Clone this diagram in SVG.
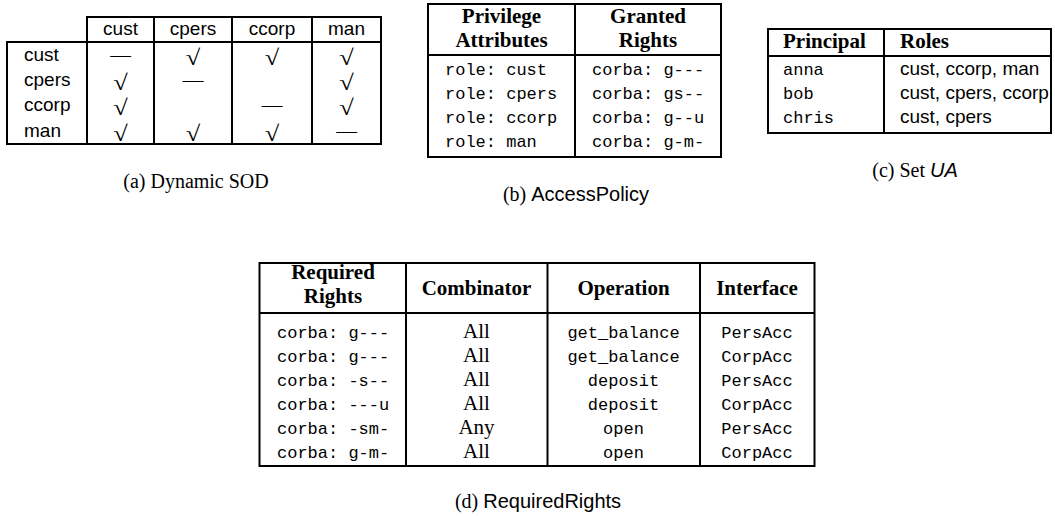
<svg xmlns="http://www.w3.org/2000/svg" width="1055" height="516" viewBox="0 0 1055 516">
<style>
.ln{stroke:#000;stroke-width:2;fill:none;stroke-linecap:square}
.sans{font-family:"Liberation Sans",Arial,sans-serif;font-size:19px;fill:#000}
.mono{font-family:"Liberation Mono","Courier New",monospace;font-size:17px;fill:#000}
.hdr{font-family:"Liberation Serif","Times New Roman",serif;font-weight:bold;font-size:21px;fill:#000}
.ser{font-family:"Liberation Serif","Times New Roman",serif;font-size:21px;fill:#000}
.cap{font-family:"Liberation Serif","Times New Roman",serif;font-size:20px;fill:#000}
.cs{font-family:"Liberation Sans",Arial,sans-serif}
.dash{font-family:"Liberation Serif","Times New Roman",serif;font-size:18px;fill:#000;text-anchor:middle}
.chk{font-family:"Liberation Serif","Times New Roman",serif;font-size:22px;fill:#000;text-anchor:middle}
.m{text-anchor:middle}
</style>
<rect width="1055" height="516" fill="#fff"/>

<g id="table-a">
  <path class="ln" d="M87,17H381M7,42H381M7,144H381M7,42V144M87,17V144M154,17V144M232,17V144M312,17V144M381,17V144"/>
  <g class="sans m">
    <text x="120.5" y="35">cust</text>
    <text x="193" y="35">cpers</text>
    <text x="272" y="35">ccorp</text>
    <text x="346.5" y="35">man</text>
  </g>
  <g class="sans">
    <text x="24" y="61">cust</text>
    <text x="24" y="86">cpers</text>
    <text x="24" y="111">ccorp</text>
    <text x="24" y="137">man</text>
  </g>
  <g class="dash">
    <text transform="translate(120.5,61) scale(1.15,1)">—</text>
    <text transform="translate(193,86) scale(1.15,1)">—</text>
    <text transform="translate(272,111) scale(1.15,1)">—</text>
    <text transform="translate(346.5,137) scale(1.15,1)">—</text>
  </g>
  <g class="chk">
    <text transform="translate(193,65) scale(1.2,1)">√</text>
    <text transform="translate(272,65) scale(1.2,1)">√</text>
    <text transform="translate(346.5,65) scale(1.2,1)">√</text>
    <text transform="translate(120.5,90) scale(1.2,1)">√</text>
    <text transform="translate(346.5,90) scale(1.2,1)">√</text>
    <text transform="translate(120.5,115) scale(1.2,1)">√</text>
    <text transform="translate(346.5,115) scale(1.2,1)">√</text>
    <text transform="translate(120.5,141) scale(1.2,1)">√</text>
    <text transform="translate(193,141) scale(1.2,1)">√</text>
    <text transform="translate(272,141) scale(1.2,1)">√</text>
  </g>
  <text class="cap m" x="196" y="188">(a) Dynamic SOD</text>
</g>

<g id="table-b">
  <path class="ln" d="M428,4H721M428,55H721M428,157H721M428,4V157M575,4V157M721,4V157"/>
  <g class="hdr m">
    <text x="501.5" y="23">Privilege</text>
    <text x="501.5" y="47">Attributes</text>
    <text x="648" y="23">Granted</text>
    <text x="648" y="47">Rights</text>
  </g>
  <g class="mono">
    <text x="445" y="75">role: cust</text>
    <text x="445" y="99">role: cpers</text>
    <text x="445" y="123">role: ccorp</text>
    <text x="445" y="147">role: man</text>
    <text x="592" y="75">corba: g---</text>
    <text x="592" y="99">corba: gs--</text>
    <text x="592" y="123">corba: g--u</text>
    <text x="592" y="147">corba: g-m-</text>
  </g>
  <text class="cap m" x="576" y="201">(b) <tspan class="cs">AccessPolicy</tspan></text>
</g>

<g id="table-c">
  <path class="ln" d="M768,29H1051M768,56H1051M768,133H1051M768,29V133M884,29V133M1051,29V133"/>
  <text class="hdr" x="783" y="48">Principal</text>
  <text class="hdr" x="900" y="48">Roles</text>
  <g class="mono">
    <text x="783" y="75">anna</text>
    <text x="783" y="99">bob</text>
    <text x="783" y="123">chris</text>
  </g>
  <g class="sans">
    <text x="900" y="75">cust, ccorp, man</text>
    <text x="900" y="99">cust, cpers, ccorp</text>
    <text x="900" y="123">cust, cpers</text>
  </g>
  <text class="cap m" x="915" y="177">(c) Set <tspan class="cs" font-style="italic">UA</tspan></text>
</g>

<g id="table-d">
  <path class="ln" d="M259.5,263H814.5M259.5,313H814.5M259.5,466H814.5M259.5,263V466M406,263V466M547.5,263V466M700,263V466M814.5,263V466"/>
  <g class="hdr m">
    <text x="333" y="279">Required</text>
    <text x="333" y="303">Rights</text>
    <text x="476.5" y="295">Combinator</text>
    <text x="623.5" y="295">Operation</text>
    <text x="757" y="295">Interface</text>
  </g>
  <g class="mono">
    <text x="277" y="338">corba: g---</text>
    <text x="277" y="362">corba: g---</text>
    <text x="277" y="386">corba: -s--</text>
    <text x="277" y="410">corba: ---u</text>
    <text x="277" y="434">corba: -sm-</text>
    <text x="277" y="458">corba: g-m-</text>
  </g>
  <g class="ser m">
    <text x="476.5" y="338">All</text>
    <text x="476.5" y="362">All</text>
    <text x="476.5" y="386">All</text>
    <text x="476.5" y="410">All</text>
    <text x="476.5" y="434">Any</text>
    <text x="476.5" y="458">All</text>
  </g>
  <g class="mono m">
    <text x="623.5" y="338">get_balance</text>
    <text x="623.5" y="362">get_balance</text>
    <text x="623.5" y="386">deposit</text>
    <text x="623.5" y="410">deposit</text>
    <text x="623.5" y="434">open</text>
    <text x="623.5" y="458">open</text>
    <text x="757" y="338">PersAcc</text>
    <text x="757" y="362">CorpAcc</text>
    <text x="757" y="386">PersAcc</text>
    <text x="757" y="410">CorpAcc</text>
    <text x="757" y="434">PersAcc</text>
    <text x="757" y="458">CorpAcc</text>
  </g>
  <text class="cap m" x="538" y="508">(d) <tspan class="cs">RequiredRights</tspan></text>
</g>
</svg>
